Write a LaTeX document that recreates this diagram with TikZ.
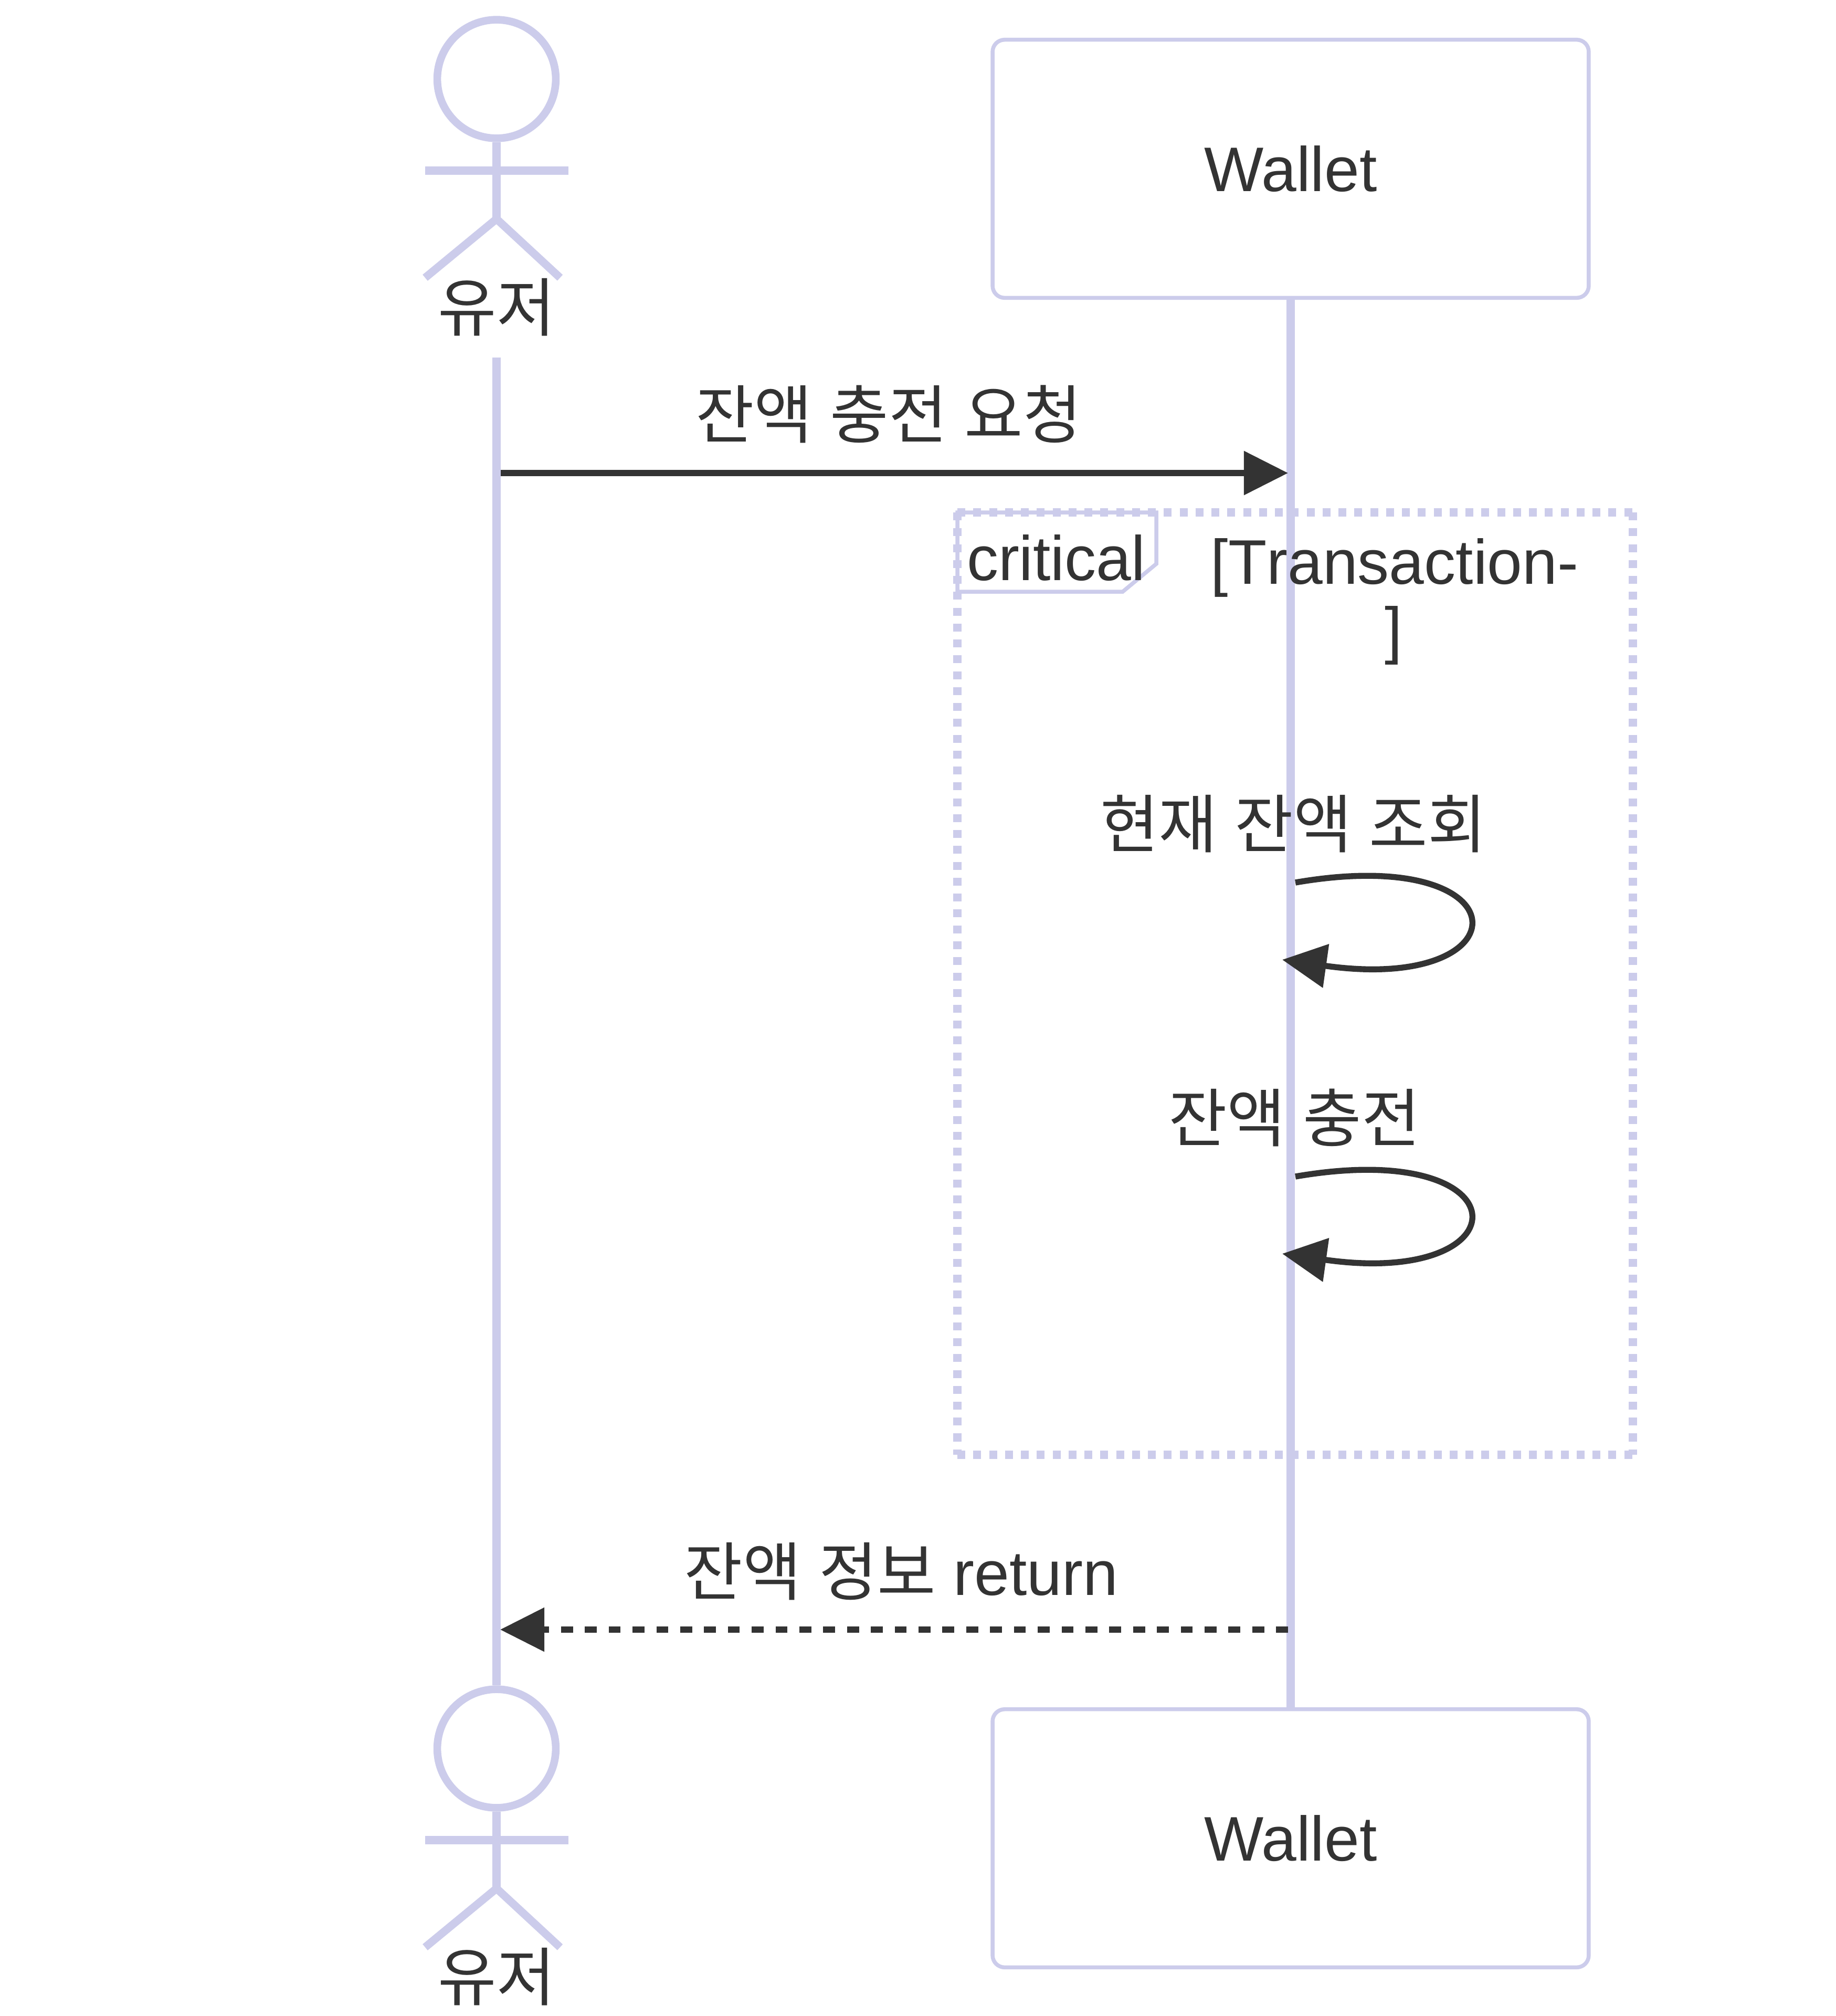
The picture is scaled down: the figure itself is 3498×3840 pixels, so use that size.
\documentclass[tikz,border=0pt]{standalone}
\usepackage{fontspec}
\usetikzlibrary{arrows.meta}
\setmainfont{Liberation Sans}
\newfontfamily\kr[Scale=1.01]{Noto Sans CJK KR}
\definecolor{lilac}{HTML}{CCCCEB}
\definecolor{ink}{HTML}{333333}
\tikzset{
  actorline/.style={draw=lilac,line width=3.63pt},
  lifeline/.style={draw=lilac,line width=3.63pt},
  wbox/.style={draw=lilac,line width=1.8pt,rounded corners=5.5pt,minimum width=272.6pt,minimum height=118pt,inner sep=0pt,text=ink,font=\fontsize{28.8}{34}\selectfont},
  head/.style={circle,draw=lilac,fill=white,line width=3.5pt,minimum size=54.2pt,inner sep=0pt},
  lbl/.style={anchor=base,inner sep=0pt,text=ink,font=\fontsize{28.8}{34}\selectfont},
  frameline/.style={draw=lilac,line width=3.63pt,dash pattern=on 3.63pt off 3.63pt},
  tagbox/.style={draw=lilac,line width=1.8pt},
  msg/.style={draw=ink,line width=2.73pt,-{Triangle[length=20.2pt,width=19.6pt]},color=ink},
  retmsg/.style={msg,dash pattern=on 5.45pt off 5.45pt},
}
\begin{document}
\begin{tikzpicture}[x=0.24pt,y=-0.24pt]
\fill[white] (0,0) rectangle (3498,3840);
\useasboundingbox (0,0) rectangle (3498,3840);
% anchors
\coordinate (uTop) at (946,681);
\coordinate (m1s) at (954,901);
\coordinate (m1e) at (2454,901);
\coordinate (m2s) at (2468,1681);
\coordinate (m2e) at (2443,1828);
\coordinate (m3s) at (2468,2241);
\coordinate (m3e) at (2443,2388);
\coordinate (m4s) at (2454,3104);
\coordinate (m4e) at (953,3104);
\coordinate (fNW) at (1824,976);
\coordinate (fNE) at (3111,976);
\coordinate (fSW) at (1824,2771);
\coordinate (fSE) at (3111,2771);
% wallet boxes
\node[wbox] (wTop) at (2459,321.5) {Wallet};
\node[wbox] (wBot) at (2459,3501.5) {Wallet};
% actor heads
\node[head] (uHead) at (946,150.5) {};
\node[head] (uHeadB) at (946,3330.5) {};
% lifelines
\draw[lifeline] (uTop) -- (uHeadB.north);
\draw[lifeline] (wTop.south) -- (wBot.north);
% actors
\coordinate (hip) at (946,417);
\coordinate (hipB) at (946,3597);
\draw[actorline] (uHead.south) -- (hip);
\draw[actorline] (810,325) -- (1083,325);
\draw[actorline] (810,529) -- (hip) -- (1067,529);
\draw[actorline] (uHeadB.south) -- (hipB);
\draw[actorline] (810,3505) -- (1083,3505);
\draw[actorline] (810,3709) -- (hipB) -- (1067,3709);
\node[lbl] (uName) at (946,630) {\kr 유저};
\node[lbl] (uNameB) at (946,3810) {\kr 유저};
% critical frame
\draw[frameline] (fNW) -- (fNE);
\draw[frameline] (fNE) -- (fSE);
\draw[frameline] (fSW) -- (fSE);
\draw[frameline] (fNW) -- (fSW);
\draw[tagbox] (fNW) -- (2203,976) -- (2203,1074) -- (2139,1127) -- (1824,1127) -- cycle;
\node[lbl] (crit) at (2012,1105) {critical};
\node[lbl] (cond1) at (2657,1112) {\addfontfeature{Kerning=Off}[Transaction-};
\node[lbl] (cond2) at (2655,1241) {]};
% messages
\draw[msg] (m1s) -- (m1e);
\node[lbl] (t1) at (1693,834) {{\kr 잔액} {\kr 충전} {\kr 요청}};
\draw[msg] (m2s) .. controls (2908,1605) and (2908,1894) .. (m2e);
\node[lbl] (t2) at (2464,1614) {{\kr 현재} {\kr 잔액} {\kr 조회}};
\draw[msg] (m3s) .. controls (2908,2165) and (2908,2454) .. (m3e);
\node[lbl] (t3) at (2466,2174) {{\kr 잔액} {\kr 충전}};
\draw[retmsg] (m4s) -- (m4e);
\node[lbl] (t4) at (1717,3038) {{\kr 잔액} {\kr 정보} return};
\end{tikzpicture}
\end{document}
